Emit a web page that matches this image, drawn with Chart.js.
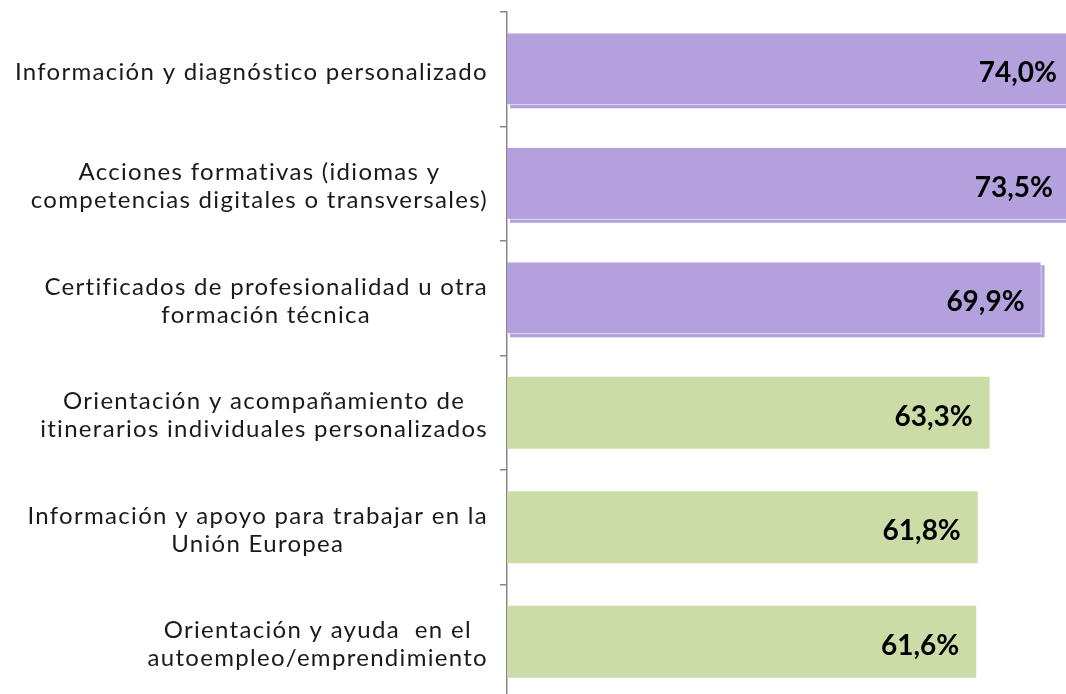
<!DOCTYPE html>
<html>
<head>
<meta charset="utf-8">
<script src="https://cdn.jsdelivr.net/npm/chart.js@4"></script>
<style>
  html, body { margin: 0; padding: 0; background: #fff; overflow: hidden; }
  .wrap { width: 1066px; height: 700px; position: relative; }
</style>
</head>
<body>
<div class="wrap"><canvas id="chart"></canvas></div>
<script>
const categories = [
  ['Información y diagnóstico personalizado'],
  ['Acciones formativas (idiomas y', 'competencias digitales o transversales)'],
  ['Certificados de profesionalidad u otra', 'formación técnica'],
  ['Orientación y acompañamiento de', 'itinerarios individuales personalizados'],
  ['Información y apoyo para trabajar en la', 'Unión Europea'],
  ['Orientación y ayuda  en el', 'autoempleo/emprendimiento']
];
const values = [74.0, 73.5, 69.9, 63.3, 61.8, 61.6];
const barColors = ['#B2A1DD', '#B2A1DD', '#B2A1DD', '#CCDCA6', '#CCDCA6', '#CCDCA6'];
const shadowed = [true, true, true, false, false, false];

const fmt = v => v.toFixed(1).replace('.', ',') + '%';

// purple bars get a small offset copy behind them
const barShadow = {
  id: 'barShadow',
  beforeDatasetsDraw(chart) {
    const ctx = chart.ctx;
    const area = chart.chartArea;
    const meta = chart.getDatasetMeta(0);
    ctx.save();
    ctx.beginPath();
    ctx.rect(area.left, area.top, area.right - area.left, area.bottom - area.top);
    ctx.clip();
    meta.data.forEach((bar, i) => {
      if (!shadowed[i]) return;
      const p = bar.getProps(['x', 'y', 'base', 'height'], true);
      ctx.fillStyle = barColors[i];
      ctx.fillRect(Math.max(p.base, area.left) + 3, p.y - p.height / 2 + 3, p.x - Math.max(p.base, area.left), p.height);
    });
    ctx.restore();
  }
};

const barLabels = {
  id: 'barLabels',
  afterDatasetsDraw(chart) {
    const ctx = chart.ctx;
    const meta = chart.getDatasetMeta(0);
    ctx.save();
    ctx.font = 'bold 28px Lato';
    ctx.fillStyle = '#000';
    ctx.textAlign = 'right';
    ctx.textBaseline = 'middle';
    meta.data.forEach((bar, i) => {
      ctx.fillText(fmt(values[i]), bar.x - 17, bar.y + 4);
    });
    ctx.restore();
  }
};

// category labels: lines centred within each label, blocks right-aligned
const catLabels = {
  id: 'catLabels',
  afterDraw(chart) {
    const ctx = chart.ctx;
    const yScale = chart.scales.y;
    const rightEdge = 488;
    const lineH = 28;
    ctx.save();
    ctx.font = '24px Lato';
    ctx.letterSpacing = '1.3px';
    ctx.fillStyle = '#1a1a1a';
    ctx.textAlign = 'center';
    ctx.textBaseline = 'middle';
    categories.forEach((lines, i) => {
      const w = Math.max(...lines.map(l => ctx.measureText(l).width));
      const cx = rightEdge - w / 2;
      const cy = yScale.getPixelForValue(i) + 3;
      lines.forEach((l, j) => {
        ctx.fillText(l, cx, cy + (j - (lines.length - 1) / 2) * lineH);
      });
    });
    ctx.restore();
  }
};

new Chart(document.getElementById('chart'), {
  type: 'bar',
  data: {
    labels: categories,
    datasets: [{
      data: values,
      backgroundColor: barColors,
      borderColor: '#ffffff',
      borderWidth: shadowed.map(s => s ? { top: 0, left: 0, right: 1, bottom: 1 } : 0),
      borderSkipped: false,
      barPercentage: 0.63,
      categoryPercentage: 1
    }]
  },
  options: {
    indexAxis: 'y',
    responsive: true,
    maintainAspectRatio: false,
    animation: false,
    layout: { padding: { top: 12, bottom: 1, left: 0, right: 0 } },
    plugins: {
      legend: { display: false },
      tooltip: { enabled: false }
    },
    scales: {
      x: { display: false, min: 2, max: 73 },
      y: {
        afterFit: (scale) => { scale.width = 507; },
        ticks: { display: false },
        grid: {
          offset: true,
          drawOnChartArea: false,
          drawTicks: true,
          tickLength: 7,
          color: '#868686',
          lineWidth: 1.5
        },
        border: { display: true, color: '#868686', width: 1.5 }
      }
    }
  },
  plugins: [barShadow, barLabels, catLabels]
});
</script>
</body>
</html>
